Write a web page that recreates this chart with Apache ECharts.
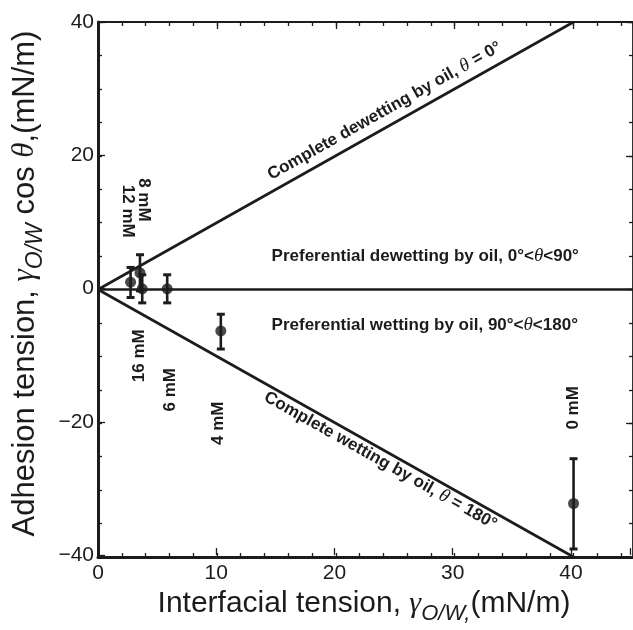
<!DOCTYPE html>
<html>
<head>
<meta charset="utf-8">
<script src="https://cdn.jsdelivr.net/npm/echarts@6/dist/echarts.min.js"></script>
<style>
html,body{margin:0;padding:0;background:#ffffff;}
#chart{width:633px;height:630px;}
</style>
</head>
<body>
<div id="chart"></div>
<script>
// Samples: interfacial tension (mN/m) and adhesion tension (mN/m) with error range
const concentrations = ['12 mM', '8 mM', '16 mM', '6 mM', '4 mM', '0 mM'];
const interfacialTension = [2.74, 3.53, 3.72, 5.82, 10.33, 40.0];
const adhesionTension = [1.1, 2.5, 0.1, 0.1, -6.2, -32.0];
const adhesionLow = [-1.2, -0.2, -2.0, -2.0, -8.9, -38.8];
const adhesionHigh = [3.3, 5.2, 2.2, 2.2, -3.7, -25.3];

// Concentration tags, anchored in data units
const tagX = [2.52, 3.86, 3.44, 6.05, 10.08, 40.0];
const tagY = [11.7, 13.4, -9.9, -15.0, -20.0, -17.7];
const tagReadsDown = [true, true, false, false, false, false];

// Wetting-regime boundaries
const dewettingLine = [[0, 0], [40, 40]];   // theta = 0
const wettingLine = [[0, 0], [40, -40]];    // theta = 180
const neutralLine = [[0, 0], [45, 0]];      // theta = 90

// Regime captions
const regionCaptions = [
  '{b|Complete dewetting by oil, }{t|θ}{b| = 0°}',
  '{b|Preferential dewetting by oil, 0°<}{t|θ}{b|<90°}',
  '{b|Preferential wetting by oil, 90°<}{t|θ}{b|<180°}',
  '{b|Complete wetting by oil, }{t|θ}{b| = 180°}'
];
const regionX = [24.1, 14.6, 14.6, 23.76];
const regionY = [26.7, 5.0, -5.3, -25.6];
const regionFollows = [dewettingLine, null, null, wettingLine];

const xTickLabels = [0, 10, 20, 30, 40];
const yTickLabels = [-40, -20, 0, 20, 40];

const INK = '#1d1b1c';
const SANS = '"Liberation Sans", Arial, Helvetica, sans-serif';
const SERIF = '"Liberation Serif", "Times New Roman", serif';

function titleRich(size) {
  return {
    n: { fontSize: size, fontFamily: SANS, color: INK, lineHeight: size + 6, verticalAlign: 'top' },
    g: { fontSize: size, fontFamily: SERIF, fontStyle: 'italic', color: INK, lineHeight: size + 6, verticalAlign: 'top' },
    s: { fontSize: Math.round(size * 0.73), fontFamily: SANS, fontStyle: 'italic', color: INK,
         lineHeight: 26, padding: [Math.round(size * 0.47), 0, 0, 0], verticalAlign: 'top' }
  };
}

const gridBox = { left: 98, right: -1, top: 22, bottom: 73 };

function fmtY(v) { return yTickLabels.indexOf(v) >= 0 ? (v < 0 ? '\u2212' + Math.abs(v) : String(v)) : ''; }
function fmtX(v) { return xTickLabels.indexOf(v) >= 0 ? String(v) : ''; }

function xAx(grid, pos, interval, len, labels, lineW, name) {
  const a = {
    type: 'value', gridIndex: grid, position: pos, min: 0, max: 45, interval: interval,
    axisLine: { show: true, onZero: false, lineStyle: { color: INK, width: lineW } },
    axisTick: { show: true, inside: true, length: len, lineStyle: { color: INK, width: 1.3 } },
    axisLabel: { show: labels, formatter: fmtX, fontSize: 21, fontFamily: SANS, color: INK, margin: 8 },
    splitLine: { show: false }
  };
  if (name) {
    a.name = name; a.nameLocation = 'middle'; a.nameGap = 33;
    a.nameTextStyle = { rich: titleRich(30) };
  }
  return a;
}
function yAx(grid, pos, interval, len, labels, lineW, name) {
  const a = {
    type: 'value', gridIndex: grid, position: pos, min: -40, max: 40, interval: interval,
    axisLine: { show: true, onZero: false, lineStyle: { color: INK, width: lineW } },
    axisTick: { show: true, inside: true, length: len, lineStyle: { color: INK, width: 1.3 } },
    axisLabel: { show: labels, formatter: fmtY, fontSize: 21, fontFamily: SANS, color: INK, margin: 4 },
    splitLine: { show: false }
  };
  if (name) {
    a.name = name; a.nameLocation = 'middle'; a.nameGap = 49; a.nameRotate = 90;
    a.nameTextStyle = { rich: titleRich(31), padding: [0, 0, 0, 10] };
  }
  return a;
}

const chart = echarts.init(document.getElementById('chart'), null, { renderer: 'canvas' });

const points = interfacialTension.map((x, i) => [x, adhesionTension[i]]);
const bars = interfacialTension.map((x, i) => [x, adhesionLow[i], adhesionHigh[i]]);
const tags = concentrations.map((c, i) => [tagX[i], tagY[i], i]);
const captions = regionCaptions.map((c, i) => [regionX[i], regionY[i], i]);

const lineStyle = { color: INK, width: 2.6 };

chart.setOption({
  animation: false,
  backgroundColor: '#ffffff',
  grid: [gridBox, gridBox, gridBox, gridBox],
  xAxis: [
    xAx(0, 'bottom', 2, 4, false, 3),
    xAx(1, 'bottom', 10, 7, true, 0,
      '{n|Interfacial tension, }{g|γ}{s|O/W,}{n|(mN/m)}'),
    xAx(2, 'top', 2, 4, false, 1.8),
    xAx(3, 'top', 10, 7, false, 0)
  ],
  yAxis: [
    yAx(0, 'left', 5, 4, false, 3),
    yAx(1, 'left', 20, 7, true, 0,
      '{n|Adhesion tension, }{g|γ}{s|O/W}{n| cos }{g|θ}{n|,(mN/m)}'),
    yAx(2, 'right', 5, 4, false, 1.8),
    yAx(3, 'right', 20, 7, false, 0)
  ],
  series: [
    { type: 'line', xAxisIndex: 0, yAxisIndex: 0, data: dewettingLine, symbol: 'none', lineStyle: lineStyle, silent: true },
    { type: 'line', xAxisIndex: 0, yAxisIndex: 0, data: wettingLine, symbol: 'none', lineStyle: lineStyle, silent: true },
    { type: 'line', xAxisIndex: 0, yAxisIndex: 0, data: neutralLine, symbol: 'none', lineStyle: lineStyle, silent: true },
    {
      type: 'custom', xAxisIndex: 0, yAxisIndex: 0, data: bars, silent: true,
      renderItem: function (params, api) {
        const x = api.value(0);
        const top = api.coord([x, api.value(2)]);
        const bot = api.coord([x, api.value(1)]);
        const w = 4;
        const st = { stroke: INK, lineWidth: 2.6 };
        return {
          type: 'group', children: [
            { type: 'line', shape: { x1: top[0], y1: top[1], x2: bot[0], y2: bot[1] }, style: st },
            { type: 'line', shape: { x1: top[0] - w, y1: top[1], x2: top[0] + w, y2: top[1] }, style: { stroke: INK, lineWidth: 3 } },
            { type: 'line', shape: { x1: bot[0] - w, y1: bot[1], x2: bot[0] + w, y2: bot[1] }, style: { stroke: INK, lineWidth: 3 } }
          ]
        };
      }
    },
    {
      type: 'scatter', xAxisIndex: 0, yAxisIndex: 0, data: points, symbol: 'circle', symbolSize: 11,
      itemStyle: { color: INK }, silent: true
    },
    {
      type: 'custom', xAxisIndex: 0, yAxisIndex: 0, data: tags, silent: true,
      renderItem: function (params, api) {
        const i = api.value(2);
        const p = api.coord([api.value(0), api.value(1)]);
        return {
          type: 'text', x: p[0], y: p[1],
          rotation: tagReadsDown[i] ? -Math.PI / 2 : Math.PI / 2,
          style: {
            text: concentrations[i], fill: INK, align: 'center', verticalAlign: 'middle',
            font: 'bold 17px ' + SANS
          }
        };
      }
    },
    {
      type: 'custom', xAxisIndex: 0, yAxisIndex: 0, data: captions, silent: true,
      renderItem: function (params, api) {
        const i = api.value(2);
        const p = api.coord([api.value(0), api.value(1)]);
        const ln = regionFollows[i];
        let rot = 0, align = 'left';
        if (ln) {
          const a = api.coord(ln[0]), b = api.coord(ln[1]);
          rot = Math.atan2(a[1] - b[1], b[0] - a[0]);
          align = 'center';
        }
        return {
          type: 'text', x: p[0], y: p[1], rotation: rot,
          style: {
            text: regionCaptions[i], align: align, verticalAlign: 'middle',
            rich: {
              b: { fontSize: 17, fontWeight: 'bold', fontFamily: SANS, fill: INK, color: INK },
              t: { fontSize: 19, fontStyle: 'italic', fontFamily: SERIF, fill: INK, color: INK }
            }
          }
        };
      }
    }
  ]
});
</script>
</body>
</html>
